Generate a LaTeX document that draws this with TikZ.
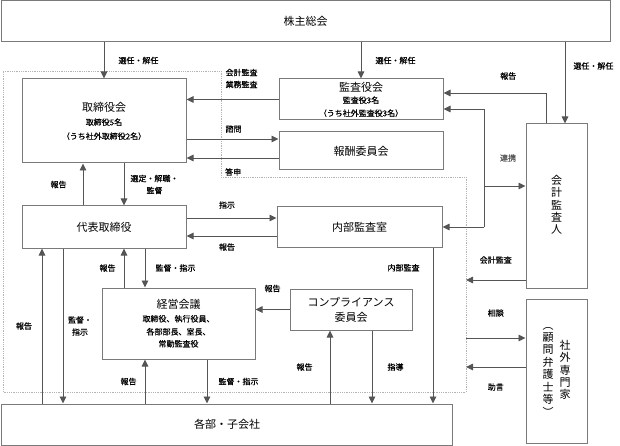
\documentclass[tikz,border=0pt]{standalone}
\usepackage{fontspec}
\setmainfont{Noto Sans CJK JP}
\newfontfamily\lblfont{Noto Sans CJK JP}[FakeBold=0.6]
\usepackage{xcolor}
\usetikzlibrary{arrows.meta}

\definecolor{boxgray}{HTML}{7A7A7A}
\definecolor{arrgray}{HTML}{555555}
\definecolor{dotgray}{HTML}{B4B4B4}

\newcommand{\sml}{\lblfont\fontsize{8}{12}\selectfont}
\newcommand{\bigtxt}{\fontsize{11}{14}\selectfont}
\newcommand{\tate}[1]{\begin{tabular}[c]{@{}c@{}}#1\end{tabular}}

\begin{document}
\begin{tikzpicture}[x=1pt,y=-1pt,
    box/.style={draw=boxgray,line width=1pt,rectangle,inner sep=0pt,align=center,font=\bigtxt},
    arr/.style={draw=arrgray,line width=0.9pt,-{Triangle[length=7pt,width=6.5pt]}},
    lbl/.style={font=\sml,inner sep=0pt,align=center}]
                \def\dotR{466} % right edge of the dotted area
                \useasboundingbox (0,0) rectangle (620,446);
                % Draw the dotted area
                \draw[dotgray,densely dotted,line width=0.8pt] (3,71) -- (221,71) -- (221,177) -- (\dotR,177) -- (\dotR,392) -- (3,392) -- cycle;
                % The boxes
                \node[box,minimum width=609pt,minimum height=41pt] (kabu) at (305.5,21.5) {株主総会};
                \node[box,minimum width=164pt,minimum height=84pt] (tori) at (104,121) {取締役会\\{\sml 取締役5名}\\{\sml （うち社外取締役2名）}};
                \node[box,minimum width=164pt,minimum height=41pt] (kansa) at (361,99.5) {監査役会\\[-2pt]{\sml 監査役3名}\\[-1pt]{\sml （うち社外監査役3名）}};
                \node[box,minimum width=164pt,minimum height=38pt] (hoshu) at (361,151) {報酬委員会};
                \node[box,minimum width=61pt,minimum height=164pt,font=\fontsize{11}{11}\selectfont] (kaikei) at (556.5,206) {\tate{会\\計\\監\\査\\人}};
                \node[box,minimum width=164pt,minimum height=42pt] (daihyo) at (104,227) {代表取締役};
                \node[box,minimum width=165pt,minimum height=40pt] (naibu) at (359.5,227) {内部監査室};
                \node[box,minimum width=153pt,minimum height=71pt] (keiei) at (178.5,323.5) {経営会議\\[-1pt]{\sml 取締役、執行役員、}\\[-1pt]{\sml 各部部長、室長、}\\[-2pt]{\sml 常勤監査役}};
                \node[box,minimum width=122pt,minimum height=41pt,font=\fontsize{11}{15}\selectfont] (comp) at (351,309.5) {コンプライアンス\\委員会};
                \node[box,minimum width=61pt,minimum height=144pt,font=\fontsize{11}{10.8}\selectfont] (gaibu) at (556.5,371) {\tate{︵\\顧\\問\\弁\\護\\士\\等\\︶}\hspace{6pt}\tate{社\\外\\専\\門\\家}};
                \node[box,minimum width=451pt,minimum height=41pt] (kakubu) at (227,424.5) {各部・子会社};
                % Free ends on the dotted area
                \coordinate (kaikeiIn) at (\dotR,280);
                \coordinate (sodan) at (\dotR,338);
                \coordinate (jogen) at (\dotR,367);
                \coordinate (rtop) at (484,109);
                \coordinate (rmid) at (484,186);
                \coordinate (rbot) at (484,227);
                % From the general meeting
                \draw[arr] (kabu.south -| tori.north) -- (tori.north) node[lbl,midway,right=14pt] {選任・解任};
                \draw[arr] (kabu.south -| kansa.north) -- (kansa.north) node[lbl,midway,right=14pt] {選任・解任};
                \draw[arr] (kabu.south -| 565,0) -- (kaikei.north -| 565,0) node[lbl,pos=0.29,right=8pt] {選任・解任};
                % Around the board
                \draw[arr] (kansa.west) -- (tori.east |- kansa.west) node[lbl,pos=0.58,anchor=west,yshift=21pt,align=left] {会計監査\\業務監査};
                \draw[arr] (tori.east |- 0,139) -- (hoshu.west |- 0,139) node[lbl,pos=0.42,anchor=west,yshift=10pt] {諮問};
                \draw[arr] (hoshu.west |- 0,158) -- (tori.east |- 0,158) node[lbl,pos=0.585,anchor=west,yshift=-14pt] {答申};
                \draw[arr] (kaikei.north -| 546,0) |- (kansa.east |- 0,93) node[lbl,pos=0.684,yshift=17pt] {報告};
                % Cooperation of the auditors
                \draw[arrgray,line width=0.9pt] (rtop) -- (rbot) node[lbl,pos=0.415,xshift=24pt] {連携};
                \draw[arr] (rtop) -- (kansa.east |- rtop);
                \draw[arr] (rmid) -- (kaikei.west |- rmid);
                \draw[arr] (rbot) -- (naibu.east |- rbot);
                % Board and representative director
                \draw[arr] (daihyo.north -| 83,0) -- (tori.south -| 83,0) node[lbl,midway,left=16pt] {報告};
                \draw[arr] (tori.south -| 124,0) -- (daihyo.north -| 124,0) node[lbl,midway,right=6pt] {選定・解職・\\監督};
                \draw[arr] (daihyo.east |- 0,218) -- (naibu.west |- 0,218) node[lbl,pos=0.45,yshift=13pt] {指示};
                \draw[arr] (naibu.west |- 0,236) -- (daihyo.east |- 0,236) node[lbl,pos=0.55,yshift=-11pt] {報告};
                % Representative director and the rest
                \draw[arr] (kakubu.north -| 42,0) -- (daihyo.south -| 42,0) node[lbl,midway,xshift=-18pt] {報告};
                \draw[arr] (daihyo.south -| 63,0) -- (kakubu.north -| 63,0) node[lbl,midway,xshift=17pt] {監督・\\指示};
                \draw[arr] (keiei.north -| 124,0) -- (daihyo.south -| 124,0) node[lbl,midway,left=8pt] {報告};
                \draw[arr] (daihyo.south -| 145,0) -- (keiei.north -| 145,0) node[lbl,midway,right=10pt] {監督・指示};
                \draw[arr] (kakubu.north -| 145,0) -- (keiei.south -| 145,0) node[lbl,midway,left=8pt] {報告};
                \draw[arr] (keiei.south -| 207,0) -- (kakubu.north -| 207,0) node[lbl,midway,right=11pt] {監督・指示};
                % Compliance and internal audit
                \draw[arr] (comp.west) -- (keiei.east |- comp.west) node[lbl,midway,yshift=21pt] {報告};
                \draw[arr] (kakubu.north -| 330,0) -- (comp.south -| 330,0) node[lbl,midway,left=17pt] {報告};
                \draw[arr] (comp.south -| 372,0) -- (kakubu.north -| 372,0) node[lbl,midway,right=15pt] {指導};
                \draw[arr] (naibu.south -| 433,0) -- (kakubu.north -| 433,0) node[lbl,pos=0.13,left=13pt] {内部監査};
                % Outside the dotted area
                \draw[arr] (kaikei.west |- kaikeiIn) -- (kaikeiIn) node[lbl,midway,yshift=20pt] {会計監査};
                \draw[arr] (sodan) -- (gaibu.west |- sodan) node[lbl,midway,yshift=25pt] {相談};
                \draw[arr] (gaibu.west |- jogen) -- (jogen) node[lbl,midway,yshift=-20pt] {助言};
            \end{tikzpicture}
\end{document}
